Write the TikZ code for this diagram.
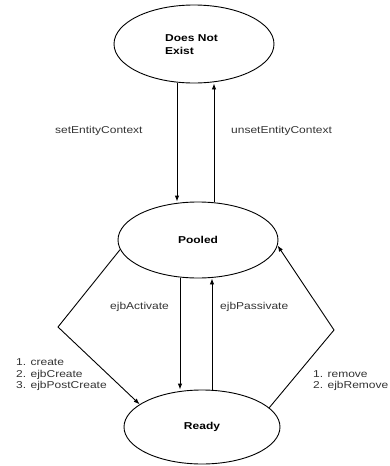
\documentclass[tikz,border=0pt]{standalone}
\usepackage{fontspec}
\usetikzlibrary{shapes.geometric,arrows.meta}
\newfontfamily\diagfont[FakeStretch=1.2]{Liberation Sans}
\begin{document}
\begin{tikzpicture}[x=1pt,y=-1pt,
  state/.style={draw=black, line width=0.9pt, ellipse, inner sep=0pt,
    font={\diagfont\fontsize{10}{11.5}\selectfont\bfseries}, align=left},
  trans/.style={line width=0.9pt, -{Latex[length=6pt,width=4.5pt]}},
  lbl/.style={anchor=west, inner sep=0pt, text=black!80,
    font={\diagfont\fontsize{10}{11.5}\selectfont}, align=left}]
  \useasboundingbox (0,0) rectangle (389,466);

  % states
  \node[state, minimum width=160pt, minimum height=78pt] (dne) at (194,44) {};
  \node[anchor=west, inner sep=0pt, align=left,
        font={\diagfont\fontsize{10}{12.5}\selectfont\bfseries}] (dnetext) at (165,44.5) {Does Not\\Exist};
  \node[state, minimum width=160pt, minimum height=76pt] (pool) at (198,240) {Pooled};
  \node[state, minimum width=156pt, minimum height=74pt] (ready) at (202,427) {Ready};

  % columns of the vertical transitions
  \coordinate (c1) at (177,0);
  \coordinate (c2) at (214,0);
  \coordinate (c3) at (180,0);
  \coordinate (c4) at (212,0);

  % corners of the side transitions
  \coordinate (bendL) at (58,327);
  \coordinate (bendR) at (334,330);

  % Does Not Exist <-> Pooled
  \draw[trans] (dne.south -| c1) -- (pool.north -| c1);
  \draw[trans] (pool.north -| c2) -- (dne.south -| c2);

  % Pooled <-> Ready
  \draw[trans] (pool.south -| c3) -- (ready.north -| c3);
  \draw[trans] (ready.north -| c4) -- (pool.south -| c4);

  % create / remove
  \draw[trans] (pool.187) -- (bendL) -- (ready.160);
  \draw[trans] (ready.16) -- (bendR) -- (pool.356);

  % labels
  \node[lbl] (l1) at (55,131) {setEntityContext};
  \node[lbl] (l2) at (231,131) {unsetEntityContext};
  \node[lbl] (l3) at (110,307) {ejbActivate};
  \node[lbl] (l4) at (220,307) {ejbPassivate};
  \node[lbl] (l5) at (16,375) {1. create\\2. ejbCreate\\3. ejbPostCreate};
  \node[lbl] (l6) at (313,380.5) {1. remove\\2. ejbRemove};
\end{tikzpicture}
\end{document}
